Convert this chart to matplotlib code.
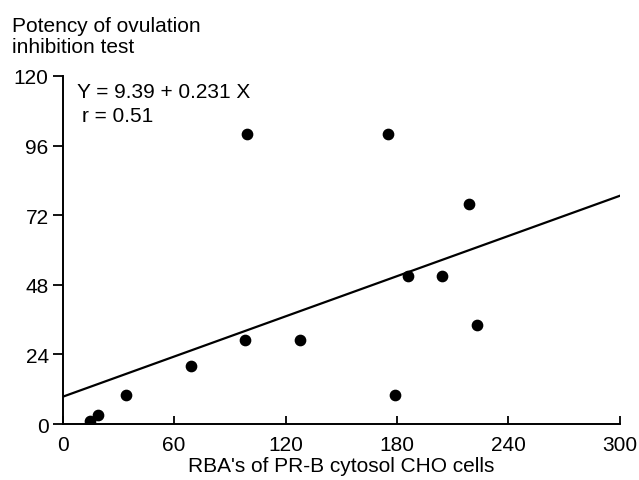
import numpy as np
import matplotlib.pyplot as plt

plt.rcParams['font.family'] = ['Liberation Sans', 'DejaVu Sans']

# RBA values (x) and ovulation inhibition potency (y)
rba = [15, 19, 34, 69, 98, 99, 128, 175, 179, 186, 204, 219, 223]
potency = [1, 3, 10, 20, 29, 100, 29, 100, 10, 51, 51, 76, 34]

intercept = 9.39
slope = 0.231
r_value = 0.51

xticks = [0, 60, 120, 180, 240, 300]
yticks = [0, 24, 48, 72, 96, 120]

fig = plt.figure(figsize=(6.39, 4.81), dpi=100)
ax = fig.add_axes([0.098, 0.1164, 0.872, 0.7236])

ax.scatter(rba, potency, s=55, color='black', zorder=3)

xx = np.array([0, 300])
ax.plot(xx, intercept + slope * xx, color='black', lw=1.6)

ax.set_xlim(0, 300)
ax.set_ylim(0, 120)
ax.set_xticks(xticks)
ax.set_yticks(yticks)
ax.spines['top'].set_visible(False)
ax.spines['right'].set_visible(False)
ax.spines['left'].set_linewidth(1.4)
ax.spines['bottom'].set_linewidth(1.4)
ax.tick_params(axis='y', direction='out', length=7, width=1.3, labelsize=15, pad=3)
ax.tick_params(axis='x', direction='in', length=6, width=1.3, labelsize=15, pad=8)

ax.set_xlabel("RBA's of PR-B cytosol CHO cells", fontsize=15, labelpad=1)
fig.text(0.018, 0.965, "Potency of ovulation\ninhibition test", fontsize=15,
         va='top', ha='left', linespacing=1.15)

ax.text(7.5, 114.5, "Y = %.2f + %.3f X" % (intercept, slope), fontsize=15, va='center')
ax.text(10.5, 106.5, "r = %.2f" % r_value, fontsize=15, va='center')

fig.savefig('out.png', dpi=100)
